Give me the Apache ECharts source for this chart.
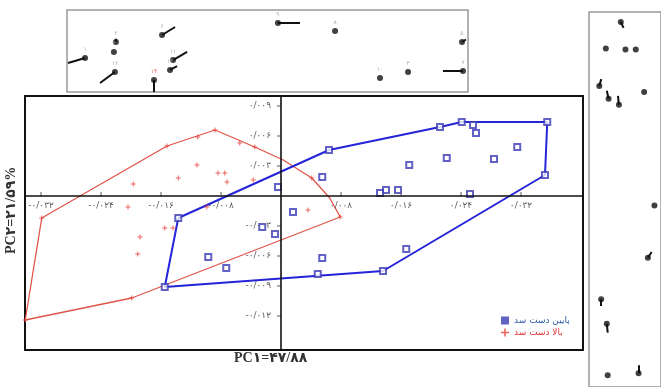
<!DOCTYPE html>
<html><head><meta charset="utf-8">
<script src="https://cdn.jsdelivr.net/npm/echarts@6/dist/echarts.min.js"></script>
<style>html,body{margin:0;padding:0;background:#fff}#c{width:661px;height:387px}</style>
</head><body><div id="c"></div>
<script>
// ---- data (PCA scores) ----
const redPoints = [[-0.0319,-0.0022],[-0.0341,-0.0124],[-0.0199,-0.0102],[0.0079,-0.0021],[0.0041,0.0018],[-0.0035,0.0049],[-0.0088,0.0066],[-0.0152,0.0050],[-0.0111,0.0059],[-0.0055,0.0053],[-0.0112,0.0031],[-0.0137,0.0018],[-0.0084,0.0023],[-0.0075,0.0023],[-0.0072,0.0014],[-0.0197,0.0012],[-0.0037,0.0016],[-0.0204,-0.0011],[-0.0099,-0.0011],[0.0036,-0.0014],[-0.0155,-0.0032],[-0.0144,-0.0032],[-0.0188,-0.0041],[-0.0191,-0.0058]];
const bluePoints = [[-0.0137,-0.0022],[-0.0155,-0.0091],[0.0136,-0.0075],[0.0352,0.0021],[0.0355,0.0074],[0.0241,0.0074],[0.0212,0.0069],[0.0064,0.0046],[0.0256,0.0071],[0.0260,0.0063],[0.0315,0.0049],[0.0284,0.0037],[0.0221,0.0038],[0.0171,0.0031],[0.0055,0.0019],[0.0140,0.0006],[0.0156,0.0006],[0.0132,0.0003],[0.0252,0.0002],[0.0167,-0.0053],[0.0055,-0.0062],[-0.0097,-0.0061],[-0.0073,-0.0072],[-0.0025,-0.0031],[-0.0008,-0.0038],[0.0049,-0.0078],[-0.0004,0.0009],[0.0016,-0.0016]];
const redHull = [[-0.0319,-0.0022],[-0.0152,0.0050],[-0.0088,0.0066],[-0.0035,0.0049],[0.0003,0.0036],[0.0041,0.0018],[0.0065,-0.0002],[0.0079,-0.0021],[-0.0199,-0.0102],[-0.0341,-0.0124],[-0.0319,-0.0022]];
const blueHull = [[-0.0137,-0.0022],[0.0064,0.0046],[0.0212,0.0069],[0.0241,0.0074],[0.0355,0.0074],[0.0352,0.0021],[0.0136,-0.0075],[-0.0155,-0.0091],[-0.0137,-0.0022]];
const xTicks = [-0.032,-0.024,-0.016,-0.008,0.008,0.016,0.024,0.032];
const yTicks = [-0.012,-0.009,-0.006,-0.003,0.003,0.006,0.009];
const seriesNames = ['پایین دست سد','بالا دست سد'];
const xTitle = 'PC۱=۴۷/۸۸';
const yTitle = 'PC۲=۲۱/۵۹%';
// ---- loadings panels ----
const topHeads = [[-0.91,-0.171],[-0.756,0.22],[-0.766,-0.024],[-0.761,-0.512],[-0.526,0.39],[-0.471,-0.22],[-0.486,-0.463],[-0.566,-0.707],[0.052,0.683],[0.337,0.488],[0.97,0.22],[0.975,-0.488],[0.701,-0.512],[0.561,-0.659]];
const topTails = [[-0.995,-0.293],[-0.756,0.30],[-0.766,-0.024],[-0.835,-0.78],[-0.461,0.585],[-0.401,-0.024],[-0.451,-0.366],[-0.566,-1],[0.162,0.683],[0.337,0.488],[0.99,0.28],[0.875,-0.488],[0.701,-0.512],[0.561,-0.659]];
const topLabels = ['۱','۲','۳','۱۲','۶','۱۱','۱۳','۱۴','۹','۸','۵','۷','۴','۱۰'];
const rightHeads = [[-0.117,0.947],[-0.532,0.805],[0.013,0.8],[0.299,0.8],[-0.714,0.605],[-0.455,0.537],[-0.169,0.505],[0.532,0.574],[0.818,-0.032],[0.636,-0.311],[-0.662,-0.532],[-0.506,-0.663],[-0.481,-0.937],[0.377,-0.926]];
const rightTails = [[-0.04,0.915],[-0.532,0.805],[0.013,0.8],[0.299,0.8],[-0.66,0.642],[-0.506,0.58],[-0.195,0.553],[0.532,0.574],[0.818,-0.032],[0.74,-0.28],[-0.662,-0.568],[-0.48,-0.71],[-0.481,-0.937],[0.377,-0.884]];

const fa = s => s.replace(/\d/g, d => '۰۱۲۳۴۵۶۷۸۹'[d]);
const fmt = v => Math.abs(v) < 1e-9 ? '' : (v < 0 ? '-' : '') + fa(Math.abs(v).toFixed(3).replace('.', '/'));
const plus = 'path://M4,0H6V4H10V6H6V10H4V6H0V4H4Z';
const FONT = 'DejaVu Sans';

const chart = echarts.init(document.getElementById('c'), null, {renderer:'canvas'});
const hiddenAxis = (gi) => ({type:'value', gridIndex:gi, min:-1, max:1, show:false});
chart.setOption({
  animation:false,
  backgroundColor:'#fff',
  textStyle:{fontFamily:FONT},
  grid:[
    {left:25, top:96, right:78, bottom:37, show:true, borderColor:'#111', borderWidth:2, backgroundColor:'#fff', z:2},
    {left:67, top:10, width:401, height:82, show:true, borderColor:'#999', borderWidth:1.5},
    {left:589, top:12, right:-10, bottom:-10, show:true, borderColor:'#999', borderWidth:1.5}
  ],
  xAxis:[
    {type:'value', gridIndex:0, min:-0.034133, max:0.040267, show:false},
    hiddenAxis(1), hiddenAxis(2)
  ],
  yAxis:[
    {type:'value', gridIndex:0, min:-0.0154, max:0.0100, show:false},
    hiddenAxis(1), hiddenAxis(2)
  ],
  legend:{
    left:496, top:311, orient:'vertical', itemGap:3, itemWidth:8, itemHeight:8,
    textStyle:{fontSize:9, fontFamily:FONT},
    data:[
      {name:seriesNames[0], icon:'rect', textStyle:{color:'#2a5aa8'}},
      {name:seriesNames[1], icon:plus, textStyle:{color:'#e03030'}}
    ]
  },
  graphic:[
    {type:'text', left:234, top:351, style:{text:xTitle, font:'bold 14px "Liberation Serif", "DejaVu Sans"', fill:'#333'}},
    {type:'text', x:4, y:254, rotation:Math.PI/2, style:{text:yTitle, font:'bold 14px "Liberation Serif", "DejaVu Sans"', fill:'#333'}}
  ],
  series:[
    // axes through the origin
    {type:'scatter', name:'zeroAxes', xAxisIndex:0, yAxisIndex:0, data:[], silent:true, z:3,
     markLine:{silent:true, symbol:'none', label:{show:false}, animation:false,
       lineStyle:{color:'#111', width:1.6, type:'solid'},
       data:[{xAxis:0},{yAxis:0}]}},
    // x tick marks + labels
    {type:'scatter', name:'xTickLabels', xAxisIndex:0, yAxisIndex:0, silent:true, z:3,
     data:xTicks.map(v=>[v,0]), symbol:'rect', symbolSize:[1,4], symbolOffset:[0,-2],
     itemStyle:{color:'#333'},
     label:{show:true, position:'bottom', distance:5, formatter:p=>fmt(p.value[0]), fontSize:9, color:'#333', fontFamily:FONT}},
    // y tick marks + labels
    {type:'scatter', name:'yTickLabels', xAxisIndex:0, yAxisIndex:0, silent:true, z:3,
     data:yTicks.map(v=>[0,v]), symbol:'rect', symbolSize:[4,1], symbolOffset:[-2,0],
     itemStyle:{color:'#333'},
     label:{show:true, position:'left', distance:6, formatter:p=>fmt(p.value[1]), fontSize:9, color:'#333', fontFamily:FONT}},
    {type:'line', name:'redHull', xAxisIndex:0, yAxisIndex:0, data:redHull, symbol:'none', z:3,
     lineStyle:{color:'#e0554a', width:1.3}},
    {type:'line', name:'blueHull', xAxisIndex:0, yAxisIndex:0, data:blueHull, symbol:'none', z:3,
     lineStyle:{color:'#2424d8', width:2}},
    {type:'scatter', name:seriesNames[0], xAxisIndex:0, yAxisIndex:0, data:bluePoints, symbol:'emptyRect', symbolSize:6, z:4,
     itemStyle:{color:'#3a3ab8', borderWidth:1.2}},
    {type:'scatter', name:seriesNames[1], xAxisIndex:0, yAxisIndex:0, data:redPoints, symbol:plus, symbolSize:5, z:4,
     itemStyle:{color:'#e8403a'}},
    {type:'lines', coordinateSystem:'cartesian2d', xAxisIndex:1, yAxisIndex:1, polyline:false,
     data:topHeads.map((h,i)=>({coords:[topTails[i], h]})), lineStyle:{color:'#111', width:2, opacity:1}},
    {type:'scatter', xAxisIndex:1, yAxisIndex:1, symbolSize:6, itemStyle:{color:'#111'},
     data:topHeads.map((h,i)=>({value:h, label:{show:true, formatter:topLabels[i], position:'top', distance:3, fontSize:6,
       color: topLabels[i]==='۱۴' ? '#e04040' : '#999'}}))},
    {type:'lines', coordinateSystem:'cartesian2d', xAxisIndex:2, yAxisIndex:2, polyline:false,
     data:rightHeads.map((h,i)=>({coords:[rightTails[i], h]})), lineStyle:{color:'#111', width:2, opacity:1}},
    {type:'scatter', xAxisIndex:2, yAxisIndex:2, symbolSize:6, itemStyle:{color:'#111'}, data:rightHeads}
  ]
});
</script>
</body></html>
